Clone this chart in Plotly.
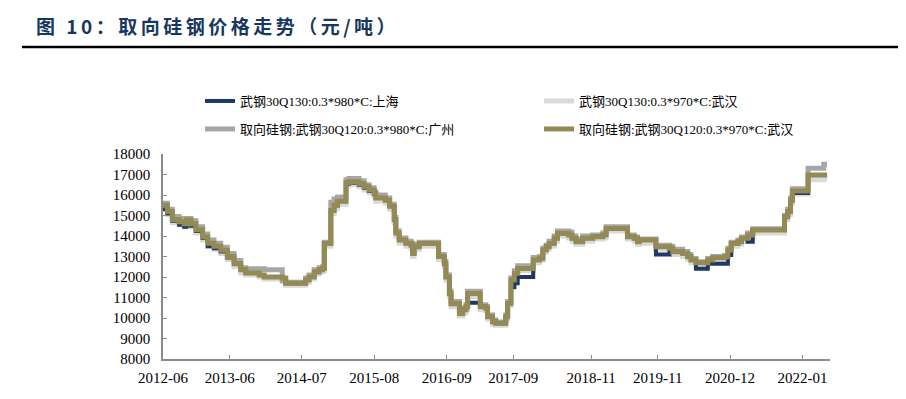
import plotly.graph_objects as go

dates = [
    "2012-06-01", "2012-06-25", "2012-07-22", "2012-08-28", "2012-09-25", "2012-10-08",
    "2012-11-01", "2012-11-28", "2013-01-04", "2013-02-01", "2013-03-07", "2013-04-13",
    "2013-05-19", "2013-06-25", "2013-08-01", "2013-08-28", "2013-11-10", "2013-12-07",
    "2014-03-16", "2014-04-04", "2014-07-22", "2014-08-10", "2014-09-07", "2014-10-04",
    "2014-10-22", "2014-11-01", "2014-12-07", "2014-12-25", "2015-01-13", "2015-02-28",
    "2015-03-16", "2015-05-10", "2015-06-07", "2015-07-04", "2015-08-01", "2015-08-10",
    "2015-10-01", "2015-10-25", "2015-11-19", "2015-11-28", "2015-12-16", "2016-01-22",
    "2016-02-19", "2016-02-28", "2016-03-07", "2016-04-04", "2016-07-19", "2016-08-19",
    "2016-08-28", "2016-09-16", "2016-09-25", "2016-11-10", "2016-11-28", "2016-12-16",
    "2016-12-25", "2017-03-04", "2017-04-04", "2017-04-13", "2017-05-10", "2017-05-28",
    "2017-07-22", "2017-08-01", "2017-08-19", "2017-09-07", "2017-09-25", "2017-12-19",
    "2018-01-22", "2018-02-10", "2018-02-28", "2018-03-16", "2018-04-13", "2018-05-01",
    "2018-07-01", "2018-07-19", "2018-08-10", "2018-09-16", "2018-11-10", "2019-01-04",
    "2019-01-22", "2019-05-19", "2019-06-25", "2019-07-13", "2019-07-22", "2019-10-22",
    "2020-01-04", "2020-01-22", "2020-03-16", "2020-04-13", "2020-05-01", "2020-05-28",
    "2020-08-01", "2020-08-28", "2020-11-01", "2020-11-19", "2020-12-07", "2021-01-13",
    "2021-02-01", "2021-03-07", "2021-04-04", "2021-09-25", "2021-10-13", "2021-10-28",
    "2021-11-07", "2022-02-01", "2022-04-28", "2022-05-16",
]

# 武钢30Q130:0.3*980*C:上海
shanghai_980 = [
    15300, 15100, 14750, 14550, 14450, 14700, 14500, 14250, 13900, 13500, 13400, 13250,
    12950, 12650, 12350, 12200, 12100, 12000, 11950, 11700, 11850, 12000, 12250, 12350,
    12420, 13640, 15250, 15500, 15700, 16550, 16600, 16500, 16350, 16200, 16050, 15850,
    15750, 15450, 14800, 14150, 13800, 13650, 13550, 13150, 13480, 13640, 13000, 12650,
    12000, 11200, 10700, 10220, 10400, 10550, 10750, 10550, 10470, 10060, 9820, 9740,
    10060, 10710, 11500, 11700, 12000, 12830, 12910, 13320, 13480, 13640, 13890, 14130,
    14050, 13890, 13720, 13890, 13960, 14050, 14370, 13960, 13890, 13720, 13800, 13100,
    13400, 13230, 13150, 12990, 12830, 12400, 12650, 12650, 12650, 13070, 13640, 13720,
    13890, 13720, 14290, 14940, 15200, 15750, 16100, 16980, 16980, 16980,
]

# 武钢30Q130:0.3*970*C:武汉
wuhan_q130_970 = [
    15350, 15050, 14650, 14550, 14450, 14650, 14450, 14150, 13800, 13500, 13350, 13150,
    12850, 12500, 12200, 12100, 12000, 11900, 11850, 11600, 11750, 11900, 12150, 12250,
    12300, 13500, 15100, 15350, 15550, 16450, 16500, 16400, 16250, 16100, 15950, 15700,
    15600, 15300, 14650, 14000, 13650, 13500, 13400, 13000, 13350, 13500, 12850, 12500,
    11850, 11050, 10550, 10100, 10250, 10400, 11050, 10400, 10350, 9950, 9700, 9650,
    9950, 10600, 11700, 12050, 12300, 12700, 12800, 13200, 13350, 13500, 13750, 14000,
    13900, 13750, 13600, 13750, 13850, 13900, 14250, 13850, 13750, 13600, 13650, 13350,
    13250, 13100, 13000, 12850, 12700, 12550, 12700, 12800, 12850, 13200, 13500, 13600,
    13750, 13900, 14150, 14800, 15050, 15600, 16050, 16750, 16800, 16800,
]

# 取向硅钢:武钢30Q120:0.3*980*C:广州
guangzhou_980 = [
    15600, 15300, 14950, 14850, 14750, 14850, 14750, 14450, 14100, 13800, 13650, 13450,
    13150, 12800, 12450, 12400, 12400, 12350, 11800, 11750, 11950, 12100, 12350, 12450,
    12500, 13700, 15650, 15800, 15900, 16750, 16800, 16700, 16500, 16350, 16150, 16000,
    15850, 15550, 14900, 14250, 13900, 13750, 13650, 13250, 13600, 13700, 13100, 12750,
    12100, 11300, 10800, 10350, 10500, 10650, 11300, 10650, 10550, 10150, 9900, 9800,
    10150, 10800, 11950, 12300, 12550, 12950, 13000, 13400, 13550, 13750, 14000, 14250,
    14200, 14000, 13850, 14000, 14050, 14150, 14450, 14050, 13950, 13800, 13850, 13550,
    13500, 13350, 13250, 13100, 12900, 12750, 12900, 13000, 13050, 13400, 13700, 13800,
    13950, 14150, 14350, 15000, 15300, 15850, 16300, 17300, 17500, 17500,
]

# 取向硅钢:武钢30Q120:0.3*970*C:武汉
wuhan_q120_970 = [
    15500, 15200, 14800, 14700, 14600, 14780, 14600, 14300, 13950, 13650, 13500, 13300,
    13000, 12650, 12350, 12200, 12100, 12000, 11950, 11700, 11850, 12000, 12250, 12350,
    12420, 13640, 15250, 15500, 15700, 16600, 16650, 16550, 16400, 16250, 16080, 15850,
    15750, 15450, 14800, 14150, 13800, 13650, 13550, 13150, 13480, 13640, 13000, 12650,
    12000, 11200, 10700, 10220, 10400, 10550, 11200, 10550, 10470, 10060, 9820, 9740,
    10060, 10710, 11850, 12180, 12420, 12830, 12910, 13320, 13480, 13640, 13890, 14130,
    14050, 13890, 13720, 13890, 13960, 14050, 14370, 13960, 13890, 13720, 13800, 13480,
    13400, 13230, 13150, 12990, 12830, 12700, 12830, 12940, 12990, 13320, 13640, 13720,
    13890, 14050, 14290, 14940, 15200, 15750, 16200, 16980, 16980, 16980,
]

tick_dates = ["2012-06-01", "2013-06-01", "2014-07-01", "2015-08-01", "2016-09-01",
              "2017-09-01", "2018-11-01", "2019-11-01", "2020-12-01", "2022-01-01"]
tick_labels = ["2012-06", "2013-06", "2014-07", "2015-08", "2016-09",
               "2017-09", "2018-11", "2019-11", "2020-12", "2022-01"]
y_ticks = list(range(8000, 18001, 1000))

names = ["武钢30Q130:0.3*980*C:上海", "武钢30Q130:0.3*970*C:武汉",
         "取向硅钢:武钢30Q120:0.3*980*C:广州", "取向硅钢:武钢30Q120:0.3*970*C:武汉"]

SERIF = "Liberation Serif, Times New Roman, Noto Sans CJK SC, serif"

fig = go.Figure()
# draw order: light gray, gray, navy, olive (top)
fig.add_trace(go.Scatter(x=dates, y=wuhan_q130_970, name=names[1], mode="lines",
                         line=dict(color="#D9D9D9", width=5, shape="hv"),
                         legend="legend2"))
fig.add_trace(go.Scatter(x=dates, y=guangzhou_980, name=names[2], mode="lines",
                         line=dict(color="#A6A6A6", width=5, shape="hv"),
                         legend="legend3"))
fig.add_trace(go.Scatter(x=dates, y=shanghai_980, name=names[0], mode="lines",
                         line=dict(color="#1F3864", width=4, shape="hv"),
                         legend="legend"))
fig.add_trace(go.Scatter(x=dates, y=wuhan_q120_970, name=names[3], mode="lines",
                         line=dict(color="#948A54", width=5, shape="hv"),
                         legend="legend4"))

# page body has an 8px margin; figure sized so it fits the 906x399 window
OFF = 8
W, H = 906 - OFF, 399 - OFF
L = 163 - OFF
T = 154 - OFF
B = H - (359 - OFF)
R = W - (830 - OFF)
pw, ph = W - L - R, H - T - B

def px_x(xw):
    return (xw - OFF - L) / pw

def px_y(yw):
    return 1 + (T - (yw - OFF)) / ph

leg_common = dict(orientation="h", xanchor="left", yanchor="middle",
                  font=dict(family=SERIF, size=13, color="#000000"),
                  bgcolor="rgba(0,0,0,0)", itemwidth=30)

fig.update_layout(
    width=W, height=H,
    margin=dict(l=L, r=R, t=T, b=B),
    paper_bgcolor="white", plot_bgcolor="white",
    showlegend=True,
    legend=dict(x=px_x(200), y=px_y(101), **leg_common),
    legend2=dict(x=px_x(539), y=px_y(101), **leg_common),
    legend3=dict(x=px_x(200), y=px_y(129), **leg_common),
    legend4=dict(x=px_x(539), y=px_y(129), **leg_common),
    xaxis=dict(type="date", range=["2012-06-01", "2022-06-01"],
               tickvals=tick_dates, ticktext=tick_labels,
               showline=True, linecolor="#8C8C8C", linewidth=1.5,
               ticks="inside", ticklen=4, tickcolor="#8C8C8C", tickwidth=1,
               showgrid=False, zeroline=False,
               tickfont=dict(family=SERIF, size=15, color="#000000"),
               ticklabelstandoff=4),
    yaxis=dict(range=[8000, 18000], tickvals=y_ticks, tickformat="d",
               showline=True, linecolor="#8C8C8C", linewidth=1.5,
               ticks="inside", ticklen=4, tickcolor="#8C8C8C", tickwidth=1,
               showgrid=False, zeroline=False,
               tickfont=dict(family=SERIF, size=15, color="#000000"),
               ticklabelstandoff=8),
)

fig.add_annotation(
    xref="paper", yref="paper", x=px_x(34), y=px_y(26), xanchor="left", yanchor="middle",
    text='<b><span style="letter-spacing:3.5px">图 10：取向硅钢价格走势（元/吨）</span></b>',
    showarrow=False,
    font=dict(family="Noto Sans CJK SC, sans-serif", size=19, color="#17375E"),
)
fig.add_shape(type="line", xref="paper", yref="paper",
              x0=px_x(22), x1=px_x(906), y0=px_y(47), y1=px_y(47),
              line=dict(color="#000000", width=2.5))

fig.write_html("out.html")
